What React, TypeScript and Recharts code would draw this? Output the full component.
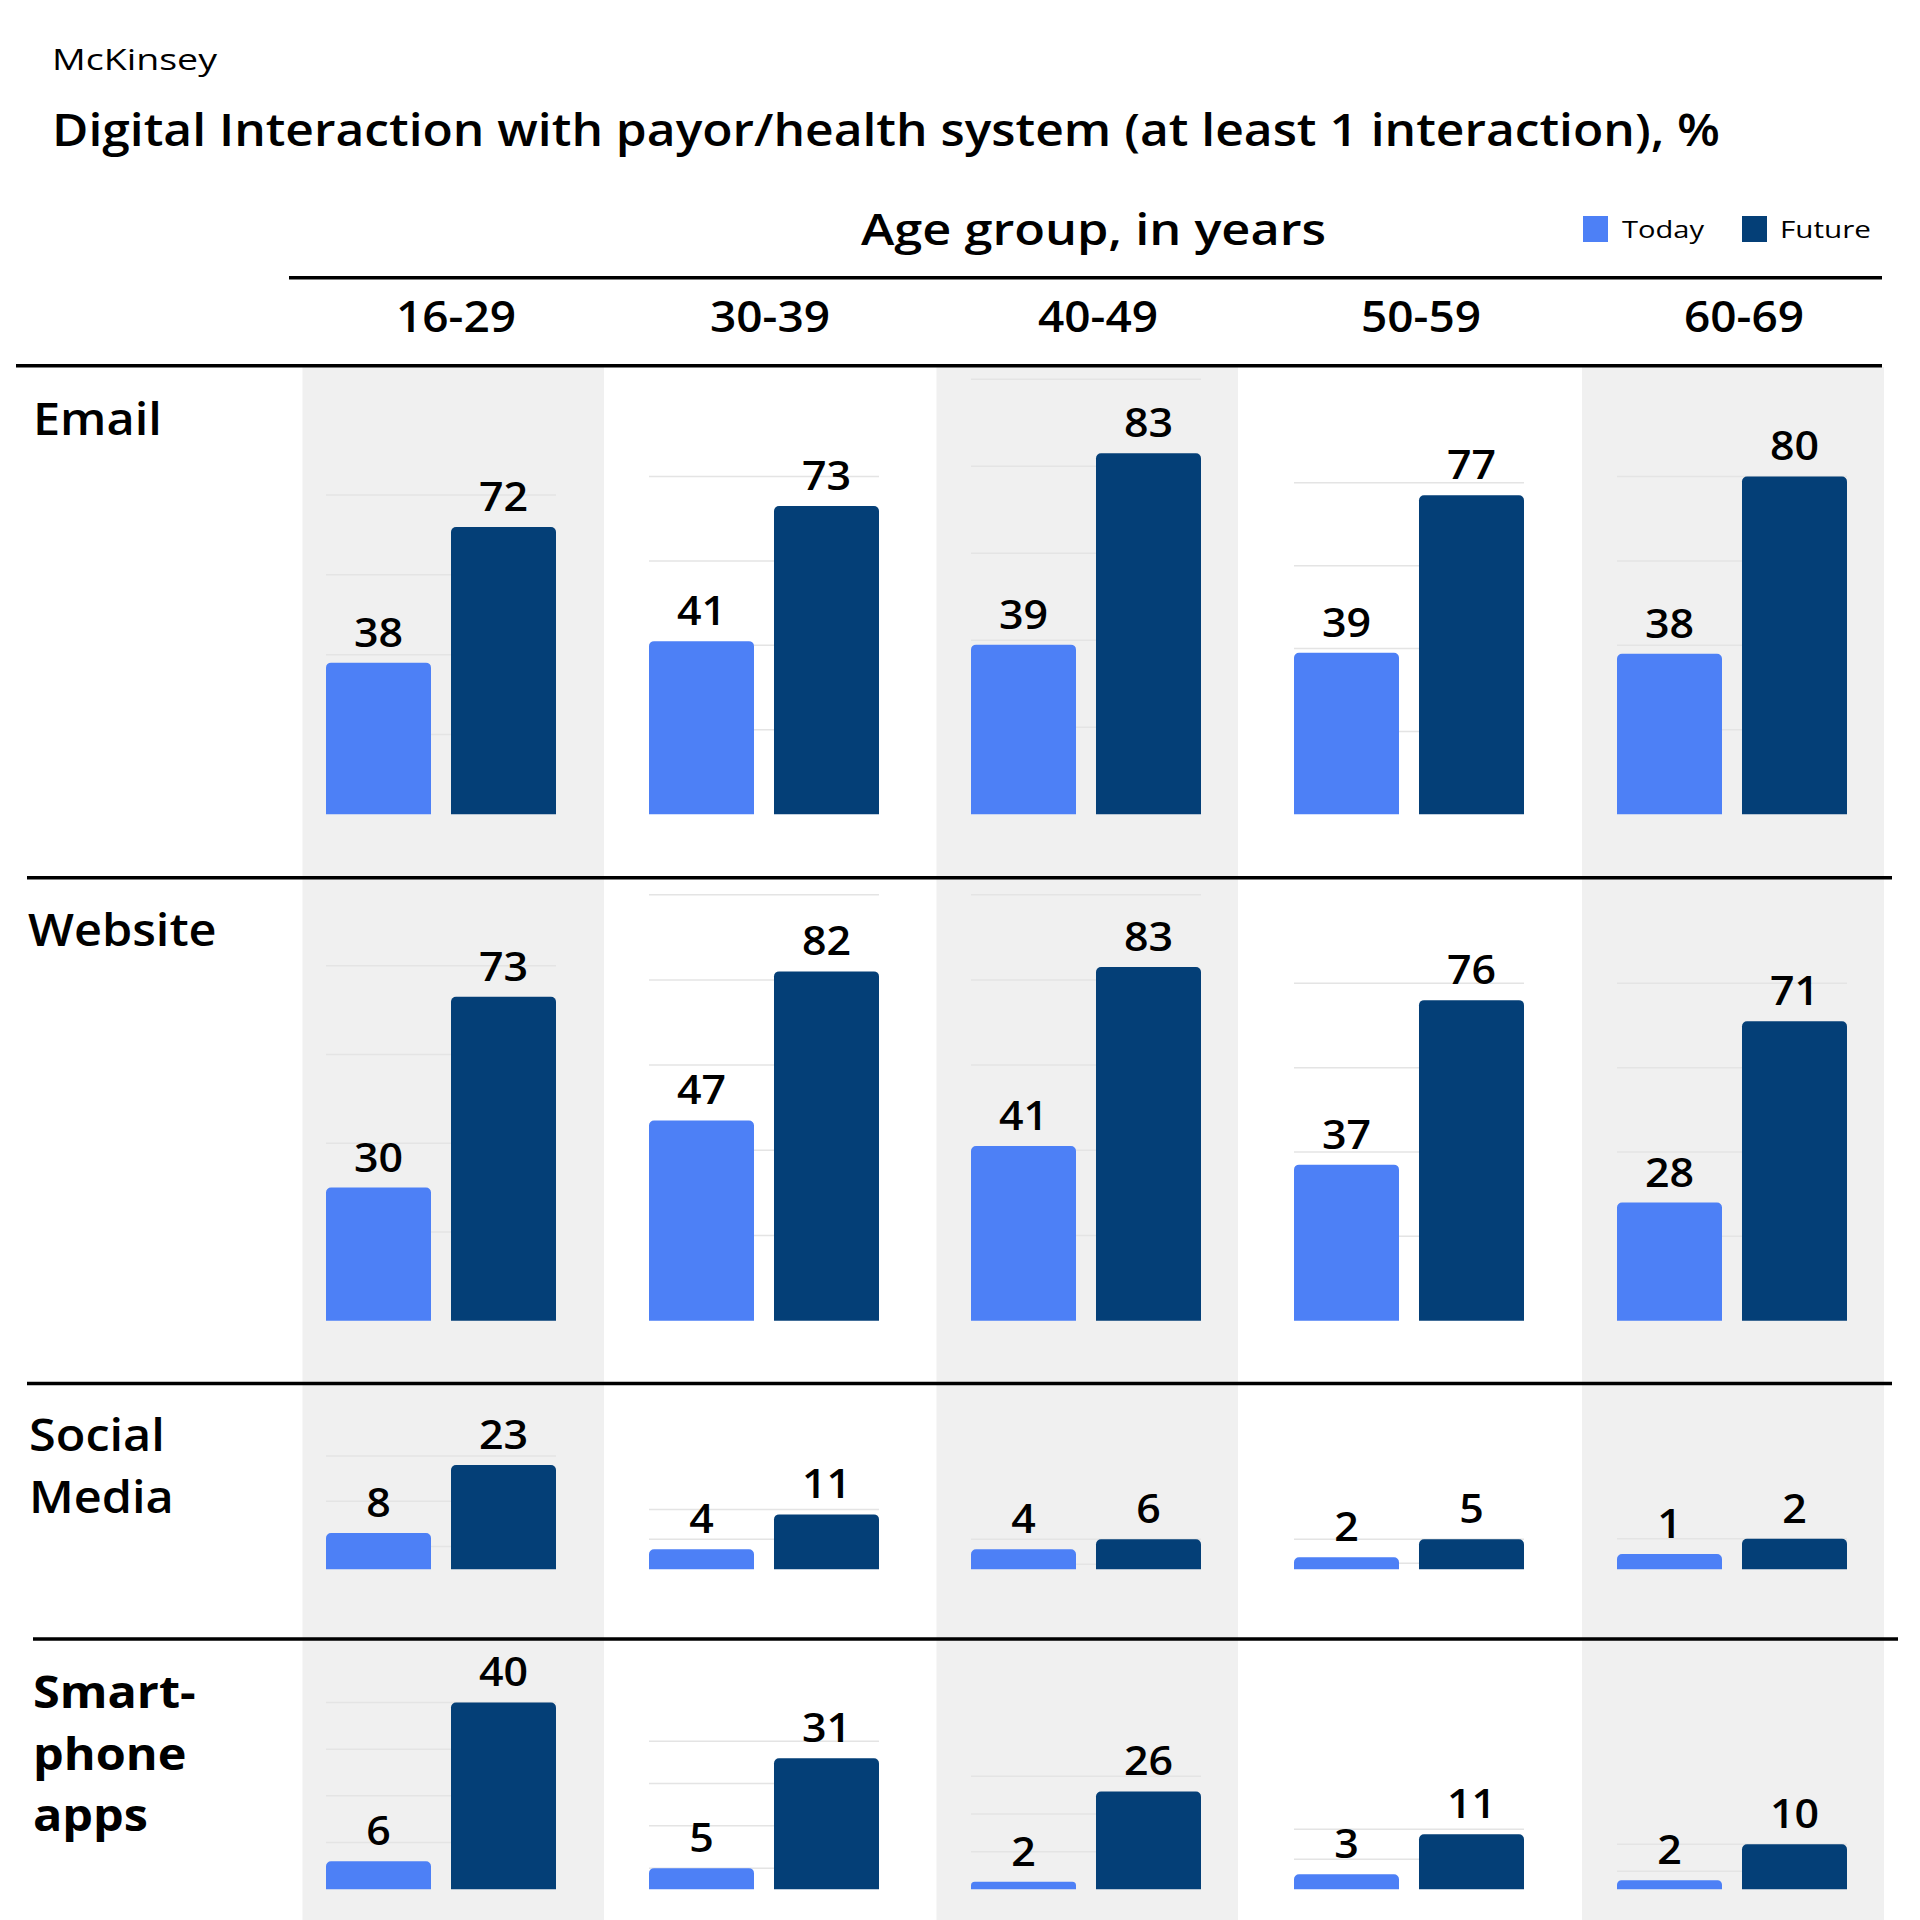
import React from 'react';
import { BarChart, Bar, XAxis, YAxis, CartesianGrid, LabelList } from 'recharts';

// ---- data ----
const ageGroups = ['16-29', '30-39', '40-49', '50-59', '60-69'];

const channelLabels: string[][] = [['Email'], ['Website'], ['Social', 'Media'], ['Smart-', 'phone', 'apps']];

const todayEmail = [38, 41, 39, 39, 38];
const futureEmail = [72, 73, 83, 77, 80];

const todayWebsite = [30, 47, 41, 37, 28];
const futureWebsite = [73, 82, 83, 76, 71];

const todaySocial = [8, 4, 4, 2, 1];
const futureSocial = [23, 11, 6, 5, 2];

const todayApps = [6, 5, 2, 3, 2];
const futureApps = [40, 31, 26, 11, 10];

// upper end of each small chart's value axis
const emailAxisMax = [109, 103, 100, 105, 103];
const websiteAxisMax = [96, 100, 100, 101, 101];
const socialAxisMax = [28.5, 25.9, 25.9, 21.6, 8.5];
const appsAxisMax = [44.8, 49.5, 55.6, 41.9, 46.5];

// ---- styling / layout ----
const FONT = "'Open Sans', 'Noto Sans', sans-serif";
const TODAY = '#4D80F6';
const FUTURE = '#043F77';
const GRID = '#e4e4e4';
const PANEL_BG = '#f0f0f0';

const colLeft = [326, 649, 971, 1294, 1617];
const PLOT_W = 230;
const headerCenters = [456, 770, 1098, 1421, 1744];

type RowLayout = { svgTop: number; plotTop: number; baseline: number };
const rowLayouts: RowLayout[] = [
  { svgTop: 370, plotTop: 379.3, baseline: 814.3 },
  { svgTop: 886, plotTop: 894.7, baseline: 1320.7 },
  { svgTop: 1386, plotTop: 1440, baseline: 1569.3 },
  { svgTop: 1642, plotTop: 1680, baseline: 1889.3 },
];

const rows = [
  { today: todayEmail, future: futureEmail, axisMax: emailAxisMax },
  { today: todayWebsite, future: futureWebsite, axisMax: websiteAxisMax },
  { today: todaySocial, future: futureSocial, axisMax: socialAxisMax },
  { today: todayApps, future: futureApps, axisMax: appsAxisMax },
];

// d3-style "nice" tick values from 0 up to a rounded maximum
function niceTicks(max: number, count = 5): number[] {
  const raw = max / count;
  const power = Math.floor(Math.log10(raw));
  const err = raw / Math.pow(10, power);
  const factor = err >= Math.sqrt(50) ? 10 : err >= Math.sqrt(10) ? 5 : err >= Math.sqrt(2) ? 2 : 1;
  const step = factor * Math.pow(10, power);
  const top = Math.ceil(max / step - 1e-9) * step;
  const out: number[] = [];
  for (let v = 0; v <= top + 1e-9; v += step) out.push(Math.round(v * 1000) / 1000);
  return out;
}

// value printed above a bar, slightly widened to suit the geometric face
function ValueLabel(props: any) {
  const { x, y, width, value } = props;
  const cx = Number(x) + Number(width) / 2;
  const by = Number(y) - 16;
  return (
    <text
      transform={`translate(${cx},${by}) scale(1.1,1)`}
      textAnchor="middle"
      fontSize={39}
      fontWeight={600}
      fontFamily={FONT}
      fill="#000"
    >
      {value}
    </text>
  );
}

function Panel({ group, today, future, axisMax, layout, left }: {
  group: string; today: number; future: number; axisMax: number; layout: RowLayout; left: number;
}) {
  const data = [{ group, today, future }];
  const bottomPad = 6;
  const height = layout.baseline + bottomPad - layout.svgTop;
  const ticks = niceTicks(Math.max(today, future));
  return (
    <div style={{ position: 'absolute', left, top: layout.svgTop, width: PLOT_W, height }}>
      <BarChart
        width={PLOT_W}
        height={height}
        data={data}
        margin={{ top: layout.plotTop - layout.svgTop, right: 0, bottom: bottomPad, left: 0 }}
        barCategoryGap={0}
        barGap={20}
        style={{ overflow: 'visible' }}
      >
        <CartesianGrid vertical={false} horizontalValues={ticks} stroke={GRID} strokeWidth={1.5} />
        <XAxis dataKey="group" hide padding={{ left: 0, right: 0 }} />
        <YAxis hide type="number" domain={[0, axisMax]} ticks={ticks} />
        <Bar dataKey="today" fill={TODAY} radius={[5, 5, 0, 0]} isAnimationActive={false}>
          <LabelList dataKey="today" position="top" content={ValueLabel} />
        </Bar>
        <Bar dataKey="future" fill={FUTURE} radius={[5, 5, 0, 0]} isAnimationActive={false}>
          <LabelList dataKey="future" position="top" content={ValueLabel} />
        </Bar>
      </BarChart>
    </div>
  );
}

const rowLabelBaselines = [[435], [946], [1451, 1513], [1708, 1770, 1831]];
const rowLabelX = [33, 28, 29, 33];

const separators = [
  { y: 277.7, x1: 289, x2: 1882 },
  { y: 365.7, x1: 16, x2: 1882 },
  { y: 877.7, x1: 27, x2: 1892 },
  { y: 1383.5, x1: 27, x2: 1892 },
  { y: 1639, x1: 33, x2: 1898 },
];

const shadedColumns = [
  { x: 302.5, w: 301.5 },
  { x: 936.5, w: 301.5 },
  { x: 1582, w: 302 },
];

export default function App() {
  return (
    <div style={{ position: 'absolute', left: 0, top: 0, width: 1920, height: 1920, background: '#fff', overflow: 'hidden' }}>
      <svg width={1920} height={1920} style={{ position: 'absolute', left: 0, top: 0 }}>
        {shadedColumns.map((c, i) => (
          <rect key={i} x={c.x} y={367} width={c.w} height={1553} fill={PANEL_BG} />
        ))}
      </svg>

      {rows.map((row, r) =>
        ageGroups.map((g, c) => (
          <Panel
            key={`${r}-${c}`}
            group={g}
            today={row.today[c]}
            future={row.future[c]}
            axisMax={row.axisMax[c]}
            layout={rowLayouts[r]}
            left={colLeft[c]}
          />
        ))
      )}

      <svg width={1920} height={1920} style={{ position: 'absolute', left: 0, top: 0, pointerEvents: 'none' }}>
        <g fontFamily={FONT} fill="#000">
          <text x={52} y={70} fontSize={30} fontWeight={500} textLength={165} lengthAdjust="spacingAndGlyphs">McKinsey</text>
          <text x={52} y={146} fontSize={45} fontWeight={600} textLength={1668} lengthAdjust="spacingAndGlyphs">
            Digital Interaction with payor/health system (at least 1 interaction), %
          </text>
          <text x={861} y={245} fontSize={44} fontWeight={600} textLength={465} lengthAdjust="spacingAndGlyphs">
            Age group, in years
          </text>

          <rect x={1583} y={216} width={25} height={26} fill={TODAY} />
          <text x={1622} y={238} fontSize={23} fontWeight={500} textLength={82} lengthAdjust="spacingAndGlyphs">Today</text>
          <rect x={1742} y={216} width={25} height={26} fill={FUTURE} />
          <text x={1780} y={238} fontSize={23} fontWeight={500} textLength={91} lengthAdjust="spacingAndGlyphs">Future</text>

          {ageGroups.map((g, i) => (
            <text key={g} transform={`translate(${headerCenters[i]},332) scale(1.07,1)`} fontSize={43}
              fontWeight={600} textAnchor="middle">{g}</text>
          ))}

          {channelLabels.map((lines, r) =>
            lines.map((line, k) => (
              <text key={`${r}-${k}`} transform={`translate(${rowLabelX[r]},${rowLabelBaselines[r][k]}) scale(1.08,1)`}
                fontSize={45} fontWeight={r === 3 ? 700 : 600}>{line}</text>
            ))
          )}
        </g>
        {separators.map((s, i) => (
          <line key={i} x1={s.x1} x2={s.x2} y1={s.y} y2={s.y} stroke="#000" strokeWidth={3.4} />
        ))}
      </svg>
    </div>
  );
}
